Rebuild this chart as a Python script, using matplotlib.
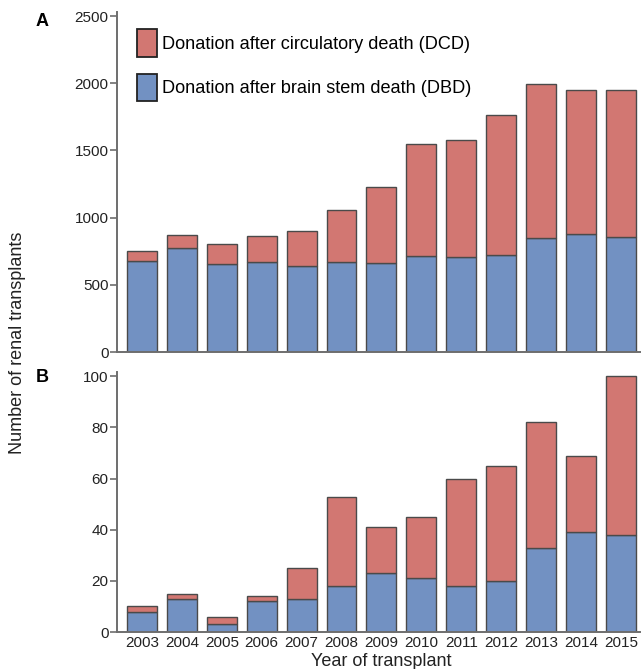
import matplotlib
matplotlib.use("Agg")
import matplotlib.pyplot as plt
from matplotlib.patches import Patch

plt.rcParams['font.family'] = ['Liberation Sans', 'DejaVu Sans']

years = ['2003', '2004', '2005', '2006', '2007', '2008', '2009',
         '2010', '2011', '2012', '2013', '2014', '2015']

# Panel A: all renal transplants
dbd_all = [675, 774, 652, 667, 640, 667, 660, 717, 705, 722, 848, 876, 853]
dcd_all = [76, 96, 152, 196, 258, 387, 565, 828, 870, 1041, 1146, 1076, 1093]

# Panel B
dbd_b = [8, 13, 3, 12, 13, 18, 23, 21, 18, 20, 33, 39, 38]
dcd_b = [2, 2, 3, 2, 12, 35, 18, 24, 42, 45, 49, 30, 62]

dcd_label = 'Donation after circulatory death (DCD)'
dbd_label = 'Donation after brain stem death (DBD)'

red = '#d27772'
blue = '#7291c2'
edge = '#4a4a4a'
spine_col = '#6e6e6e'

W, H = 644, 669
fig = plt.figure(figsize=(W / 100, H / 100), dpi=100)


def ax_rect(left, right, top, bottom):
    return [left / W, 1 - bottom / H, (right - left) / W, (bottom - top) / H]


axA = fig.add_axes(ax_rect(117, 640, 12, 352))
axB = fig.add_axes(ax_rect(117, 640, 372, 632))

x = list(range(len(years)))


def draw(ax, dbd, dcd, ymax, yticks):
    ax.bar(x, dbd, width=0.75, color=blue, edgecolor=edge, linewidth=1.0)
    ax.bar(x, dcd, width=0.75, bottom=dbd, color=red, edgecolor=edge, linewidth=1.0)
    ax.set_xlim(-0.625, 12.48)
    ax.set_ylim(0, ymax)
    ax.set_yticks(yticks)
    for s in ['top', 'right']:
        ax.spines[s].set_visible(False)
    for s in ['left', 'bottom']:
        ax.spines[s].set_color(spine_col)
        ax.spines[s].set_linewidth(1.4)
    ax.tick_params(axis='y', direction='out', length=5, width=1.2,
                   color=spine_col, labelsize=11, labelcolor='#222222', pad=1)
    ax.tick_params(axis='x', length=0, labelsize=11, labelcolor='#222222', pad=3)


draw(axA, dbd_all, dcd_all, 2530, [0, 500, 1000, 1500, 2000, 2500])
axA.set_xticks(x)
axA.set_xticklabels([])
draw(axB, dbd_b, dcd_b, 101.7, [0, 20, 40, 60, 80, 100])
axB.set_xticks(x)
axB.set_xticklabels(years)

handles = [Patch(facecolor=red, edgecolor='#222222', linewidth=1.3),
           Patch(facecolor=blue, edgecolor='#222222', linewidth=1.3)]
axA.legend(handles, [dcd_label, dbd_label], loc='upper left',
           bbox_to_anchor=(0.038, 0.95), frameon=False, fontsize=13.1,
           handlelength=1.1, handleheight=1.95, handletextpad=0.27,
           labelspacing=0.95, borderaxespad=0, borderpad=0)

fig.text(42 / W, 1 - 21 / H, 'A', fontsize=13, fontweight='bold',
         ha='center', va='center')
fig.text(42.5 / W, 1 - 377 / H, 'B', fontsize=13, fontweight='bold',
         ha='center', va='center')
fig.text(17.5 / W, 1 - 343 / H, 'Number of renal transplants', fontsize=13,
         rotation=90, ha='center', va='center', color='#222222')
fig.text(381.7 / W, 1 - 661 / H, 'Year of transplant', fontsize=13,
         ha='center', va='center', color='#222222')

fig.savefig('out.png', dpi=100)
